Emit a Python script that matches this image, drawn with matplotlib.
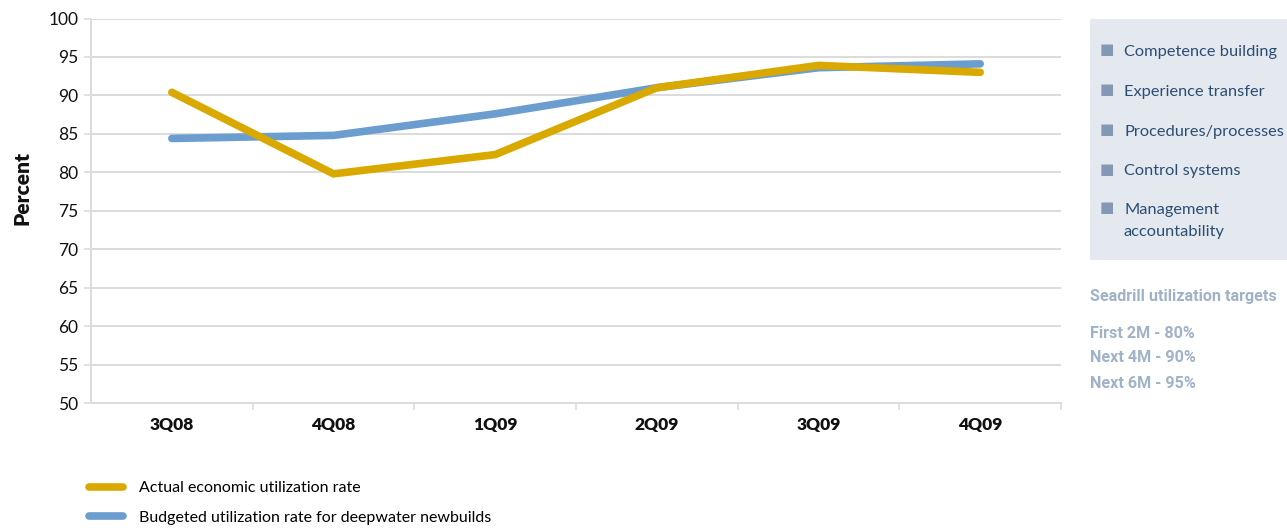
import numpy as np
import matplotlib.pyplot as plt
import matplotlib.transforms as mtransforms
from matplotlib.patches import Rectangle

quarters = ['3Q08', '4Q08', '1Q09', '2Q09', '3Q09', '4Q09']
actual = [90.4, 79.8, 82.3, 91.0, 93.9, 93.0]
budgeted = [84.4, 84.8, 87.6, 91.0, 93.6, 94.1]

focus_areas = ['Competence building', 'Experience transfer', 'Procedures/processes',
               'Control systems', 'Management\naccountability']
targets = ['First 2M - 80%', 'Next 4M - 90%', 'Next 6M - 95%']

GOLD = '#d9a900'
BLUE = '#6b9dcf'
GRID = '#dcdcdc'

plt.rcParams['font.family'] = ['Lato', 'DejaVu Sans']

W, H = 1287, 528
fig = plt.figure(figsize=(W / 100, H / 100), dpi=100)
ax = fig.add_axes([91 / W, 1 - 403 / H, (1061 - 91) / W, (403 - 18.5) / H])

x = np.arange(len(quarters))
ax.plot(x, actual, color=GOLD, lw=5.5, solid_capstyle='round', solid_joinstyle='round',
        label='Actual economic utilization rate', zorder=3)
ax.plot(x, budgeted, color=BLUE, lw=5.5, solid_capstyle='round', solid_joinstyle='round',
        label='Budgeted utilization rate for deepwater newbuilds', zorder=2)
ax.set_xlim(-0.5, len(quarters) - 0.5)
ax.set_ylim(50, 100)
ax.set_yticks(np.arange(50, 101, 5))
ax.set_xticks(x)
ax.set_xticklabels(quarters, fontsize=12.5, fontweight='heavy', color='#111111')
# category labels sit a little left of the points
shift = mtransforms.ScaledTranslation(-6 / 100, 0, fig.dpi_scale_trans)
for lbl in ax.get_xticklabels():
    lbl.set_transform(lbl.get_transform() + shift)
ax.set_xticks(np.arange(0.5, len(quarters) - 0.5 + 0.01, 1.0), minor=True)
ax.tick_params(axis='x', which='major', length=0, pad=10)
ax.tick_params(axis='x', which='minor', length=5, color=GRID, width=1.2, direction='out')
ax.tick_params(axis='y', length=5, color=GRID, width=1.2, labelsize=12.5, pad=4,
               labelcolor='#111111')
ax.grid(axis='y', color=GRID, lw=1.4)
ax.set_axisbelow(True)
for side in ['top', 'right']:
    ax.spines[side].set_visible(False)
ax.spines['left'].set_color(GRID)
ax.spines['left'].set_linewidth(1.4)
ax.spines['bottom'].set_color(GRID)
ax.spines['bottom'].set_linewidth(1.4)

fig.text(22 / W, 1 - 188 / H, 'Percent', rotation=90, ha='center', va='center',
         fontsize=15, fontweight='heavy', color='#111111')

fig.legend(loc='upper left', bbox_to_anchor=(89 / W, 1 - 481 / H), frameon=False,
           fontsize=11.5, handlelength=2.15, handletextpad=0.95, labelspacing=0.95,
           borderaxespad=0, borderpad=0)

# side panel with focus areas
fig.patches.append(Rectangle((1090 / W, 1 - 260 / H), (W - 1090) / W, (260 - 19) / H,
                             transform=fig.transFigure, facecolor='#e4e9f0',
                             edgecolor='none', zorder=0))
row_y = [50, 90, 130, 169, 208]
for label, yy in zip(focus_areas, row_y):
    fig.text(1107 / W, 1 - yy / H, '\u25a0', ha='center', va='center', fontsize=11,
             color='#8399b3', family='DejaVu Sans')
    fig.text(1124 / W, 1 - (yy - 5) / H, label, ha='left', va='top', fontsize=11.8,
             color='#2b4d74', linespacing=1.75)

narrow = ['Liberation Sans Narrow', 'Roboto', 'DejaVu Sans']
fig.text(1090 / W, 1 - 297 / H, 'Seadrill utilization targets', ha='left', va='center',
         fontsize=11.6, fontweight='bold', color='#9fb2c7', family=narrow)
for t, yy in zip(targets, [334, 358, 383]):
    fig.text(1090 / W, 1 - yy / H, t, ha='left', va='center', fontsize=11.6,
             fontweight='bold', color='#9fb2c7', family=narrow)

fig.savefig('out.png', dpi=100)
